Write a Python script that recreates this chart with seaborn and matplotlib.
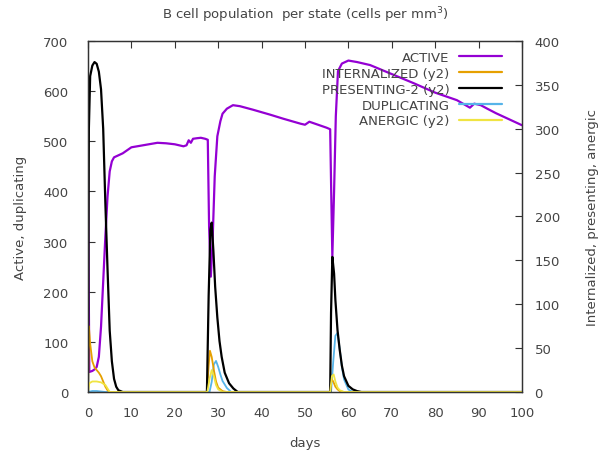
import matplotlib
matplotlib.use("Agg")
import matplotlib.pyplot as plt
import seaborn as sns
from matplotlib.lines import Line2D

# ---- data ----
active_days = [0, 0.1, 0.3, 1.0, 1.5, 2.0, 2.5, 3.0, 3.5, 4.0, 4.5, 5.0, 5.5, 6.0, 7, 8, 9, 10,
               12, 14, 16, 18, 20, 22, 22.7, 23.2, 23.7, 24.2, 25, 26, 27, 27.6, 27.9, 28.3, 28.7, 29.2,
               29.8, 30.5, 31, 32, 33.4, 35, 38, 40, 42, 45, 47, 49, 50, 51, 52, 53, 54, 55, 55.8,
               56.0, 56.3, 56.7, 57.1, 57.6, 58.5, 60, 62, 65, 70, 75, 80, 85, 88, 89, 90.5, 92,
               94, 96, 98, 100]
active_vals = [445, 300, 40, 42, 45, 50, 70, 130, 220, 310, 390, 440, 460, 468, 472, 476, 482, 488,
               491, 494, 497, 496, 494, 490, 492, 502, 497, 505, 506, 507, 505, 503, 330, 230, 300, 430,
               510, 540, 555, 565, 572, 570, 563, 558, 553, 545, 540, 535, 533, 539, 536, 533, 530, 527, 524,
               420, 270, 400, 550, 640, 655, 661, 658, 652, 634, 616, 597, 582, 567, 575, 572, 565,
               556, 548, 540, 532]

present_days = [0, 0.2, 0.5, 1.0, 1.5, 2.0, 2.5, 3.0, 3.5, 4.0, 4.5, 5.0, 5.5, 6.0, 6.5, 7, 8,
                27.4, 27.8, 28.2, 28.5, 28.9, 29.3, 29.8, 30.3, 30.8, 31.5, 32.5, 33.5, 34.5,
                55.8, 56.0, 56.3, 56.7, 57, 57.5, 58, 58.5, 59, 60, 61, 62, 63, 100]
present_vals = [0, 300, 360, 372, 376, 374, 365, 345, 300, 215, 140, 70, 35, 15, 6, 2, 0,
                0, 110, 185, 193, 160, 120, 85, 58, 40, 22, 10, 4, 0,
                0, 90, 154, 135, 105, 70, 48, 30, 18, 7, 3, 1, 0, 0]

intern_days = [0, 0.2, 0.5, 1, 1.5, 2, 2.5, 3, 3.5, 4, 4.5, 5, 27.4, 27.8, 28.1, 28.5, 29, 29.5, 30,
               31, 32, 55.8, 56.1, 56.5, 57, 57.5, 58, 59, 100]
intern_vals = [0, 75, 55, 35, 28, 25, 22, 18, 12, 6, 2, 0, 0, 30, 47, 40, 25, 12, 5,
               1, 0, 0, 15, 12, 6, 3, 1, 0, 0]

dup_days = [0, 1, 2, 3, 4, 28, 28.5, 29, 29.5, 30, 30.5, 31, 32, 33, 56, 56.5, 57, 57.5, 58, 58.5,
            59, 60, 61, 100]
dup_vals = [0, 2, 2, 1, 0, 0, 20, 55, 62, 50, 35, 22, 8, 0, 0, 60, 112, 118, 85, 50, 25, 5, 0, 0]

anergic_days = [0, 0.3, 1, 2, 3, 4, 4.5, 5, 27.5, 28, 28.5, 29, 29.5, 30, 31, 55.8, 56.2, 56.6, 57,
                57.5, 58, 59, 100]
anergic_vals = [0, 10, 12, 12, 11, 8, 4, 0, 0, 15, 25, 18, 8, 3, 0, 0, 18, 20, 12, 5, 2, 0, 0]

x_ticks = [0, 10, 20, 30, 40, 50, 60, 70, 80, 90, 100]
y_ticks = [0, 100, 200, 300, 400, 500, 600, 700]
y2_ticks = [0, 50, 100, 150, 200, 250, 300, 350, 400]

labels = ["ACTIVE", "INTERNALIZED (y2)", "PRESENTING-2 (y2)", "DUPLICATING", "ANERGIC (y2)"]
colors = ["#9400d3", "#e6a000", "#000000", "#56b4e9", "#f0e442"]

# ---- plot ----
sns.set_style("white")
plt.rcParams['font.family'] = ['DejaVu Sans']
txt = "#444444"

fig = plt.figure(figsize=(5.99, 4.52), dpi=100)
ax = fig.add_axes([88 / 599, 1 - 393 / 452, (522 - 88) / 599, (393 - 42) / 452])
ax2 = ax.twinx()

sns.lineplot(x=active_days, y=active_vals, ax=ax, color=colors[0], lw=1.6)
sns.lineplot(x=dup_days, y=dup_vals, ax=ax, color=colors[3], lw=1.3)
sns.lineplot(x=intern_days, y=intern_vals, ax=ax2, color=colors[1], lw=1.3)
sns.lineplot(x=present_days, y=present_vals, ax=ax2, color=colors[2], lw=1.6)
sns.lineplot(x=anergic_days, y=anergic_vals, ax=ax2, color=colors[4], lw=1.3)

ax.set_xlim(0, 100)
ax.set_ylim(0, 700)
ax2.set_ylim(0, 400)
ax.set_xticks(x_ticks)
ax.set_yticks(y_ticks)
ax2.set_yticks(y2_ticks)

fs = 9.5
ax.tick_params(axis='both', direction='in', length=5, width=0.8, labelsize=fs, labelcolor=txt,
               color="#333333", top=True)
ax.tick_params(axis='x', pad=10)
ax.tick_params(axis='y', pad=14)
ax2.tick_params(axis='y', direction='in', length=5, width=0.8, labelsize=fs, labelcolor=txt,
                color="#333333", pad=9)
for a in (ax, ax2):
    for s in a.spines.values():
        s.set_color("#333333")
        s.set_linewidth(0.9)

ax.set_xlabel("days", fontsize=fs, color=txt, labelpad=12)
ax.set_ylabel("Active, duplicating", fontsize=fs, color=txt, labelpad=12)
ax2.set_ylabel("Internalized, presenting, anergic", fontsize=fs, color=txt, labelpad=19)
fig.text(0.51, 1 - 15 / 452, "B cell population  per state (cells per mm$^3$)", ha='center',
         va='center', fontsize=fs, color=txt)

handles = [Line2D([], [], color=c, lw=1.6) for c in colors]
leg = ax2.legend(handles, labels, loc='upper right', bbox_to_anchor=(0.955, 0.972), frameon=False,
                 markerfirst=False, fontsize=fs, handlelength=3.3, handletextpad=0.7,
                 labelspacing=0.22, borderaxespad=0, borderpad=0)
for t in leg.get_texts():
    t.set_color(txt)
    t.set_ha('right')

fig.savefig("out.png", dpi=100)
